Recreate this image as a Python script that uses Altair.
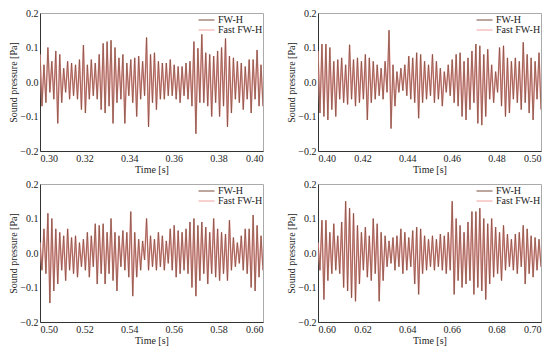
import altair as alt
import pandas as pd
import numpy as np

starts = [0.30, 0.40, 0.50, 0.60]
series_names = ["FW-H", "Fast FW-H"]
series_colors = ["#7a4c3c", "#f2a2a2"]
x_ticks = [[round(s + 0.02 * k, 2) for k in range(6)] for s in starts]
y_ticks = [-0.2, -0.1, 0.0, 0.1, 0.2]

# successive extrema (peak, trough, peak, trough, ...)
p1 = [0.08, -0.07, 0.05, -0.06, 0.10, -0.03, 0.06, -0.05, 0.09, -0.12,
      0.08, -0.06, 0.04, -0.03, 0.06, -0.05, 0.055, -0.04, 0.05, -0.05,
      0.065, -0.08, 0.107, -0.09, 0.05, -0.05, 0.065, -0.04, 0.055, -0.05,
      0.08, -0.08, 0.112, -0.09, 0.117, -0.07, 0.121, -0.12, 0.10, -0.06,
      0.07, -0.05, 0.08, -0.12, 0.055, -0.04, 0.065, -0.06, 0.07, -0.10,
      0.075, -0.05, 0.06, -0.04, 0.129, -0.13, 0.08, -0.06, 0.085, -0.08,
      0.06, -0.05, 0.055, -0.05, 0.055, -0.04, 0.065, -0.04, 0.05, -0.05,
      0.045, -0.06, 0.045, -0.04, 0.055, -0.05, 0.06, -0.07, 0.117, -0.15,
      0.098, -0.06, 0.138, -0.06, 0.085, -0.07, 0.08, -0.10, 0.075, -0.06,
      0.09, -0.10, 0.10, -0.07, 0.126, -0.13, 0.075, -0.09, 0.07, -0.05,
      0.06, -0.06, 0.055, -0.08, 0.045, -0.05, 0.065, -0.09, 0.065, -0.05,
      0.093, -0.07, 0.05, -0.07]
p2 = [0.09, -0.09, 0.11, -0.10, 0.11, -0.11, 0.10, -0.08, 0.06, -0.10,
      0.065, -0.05, 0.07, -0.06, 0.05, -0.065, 0.108, -0.05, 0.065, -0.07,
      0.07, -0.06, 0.06, -0.05, 0.08, -0.11, 0.07, -0.06, 0.06, -0.05,
      0.05, -0.04, 0.04, -0.05, 0.06, -0.03, 0.15, -0.135, 0.05, -0.07,
      0.03, -0.03, 0.04, -0.025, 0.05, -0.04, 0.075, -0.05, 0.07, -0.06,
      0.085, -0.105, 0.08, -0.06, 0.06, -0.05, 0.05, -0.04, 0.08, -0.06,
      0.06, -0.05, 0.04, -0.07, 0.03, -0.03, 0.05, -0.04, 0.065, -0.06,
      0.08, -0.07, 0.085, -0.10, 0.06, -0.11, 0.07, -0.08, 0.09, -0.06,
      0.11, -0.12, 0.105, -0.125, 0.08, -0.10, 0.095, -0.05, 0.05, -0.06,
      0.03, -0.03, 0.10, -0.07, 0.105, -0.10, 0.07, -0.09, 0.06, -0.05,
      0.07, -0.06, 0.06, -0.08, 0.115, -0.06, 0.08, -0.09, 0.07, -0.11,
      0.06, -0.05, 0.085, -0.08]
p3 = [0.03, -0.05, 0.07, -0.06, 0.115, -0.145, 0.10, -0.11, 0.07, -0.09,
      0.06, -0.05, 0.05, -0.08, 0.07, -0.05, 0.045, -0.06, 0.05, -0.07,
      0.03, -0.04, 0.04, -0.05, 0.06, -0.07, 0.05, -0.04, 0.085, -0.09,
      0.08, -0.06, 0.085, -0.09, 0.06, -0.06, 0.10, -0.08, 0.06, -0.11,
      0.05, -0.04, 0.065, -0.05, 0.06, -0.07, 0.12, -0.125, 0.06, -0.07,
      0.04, -0.05, 0.035, -0.02, 0.10, -0.05, 0.05, -0.04, 0.04, -0.05,
      0.06, -0.04, 0.05, -0.05, 0.035, -0.03, 0.07, -0.05, 0.08, -0.07,
      0.065, -0.06, 0.06, -0.05, 0.07, -0.06, 0.09, -0.10, 0.10, -0.125,
      0.08, -0.08, 0.09, -0.06, 0.075, -0.09, 0.06, -0.06, 0.10, -0.07,
      0.07, -0.08, 0.06, -0.06, 0.055, -0.08, 0.095, -0.05, 0.045, -0.04,
      0.03, -0.03, 0.05, -0.05, 0.07, -0.06, 0.07, -0.10, 0.11, -0.11,
      0.08, -0.07, 0.05, -0.05]
p4 = [0.03, -0.05, 0.095, -0.135, 0.095, -0.08, 0.06, -0.06, 0.085, -0.05,
      0.05, -0.06, 0.09, -0.10, 0.15, -0.11, 0.13, -0.13, 0.115, -0.14,
      0.08, -0.09, 0.06, -0.05, 0.075, -0.07, 0.05, -0.08, 0.10, -0.06,
      0.085, -0.14, 0.06, -0.08, 0.05, -0.04, 0.035, -0.03, 0.045, -0.05,
      0.05, -0.04, 0.07, -0.06, 0.06, -0.05, 0.045, -0.04, 0.065, -0.09,
      0.075, -0.12, 0.07, -0.06, 0.05, -0.05, 0.04, -0.04, 0.05, -0.05,
      0.04, -0.04, 0.055, -0.05, 0.05, -0.06, 0.06, -0.05, 0.15, -0.12,
      0.10, -0.08, 0.08, -0.10, 0.06, -0.09, 0.09, -0.08, 0.12, -0.12,
      0.12, -0.10, 0.13, -0.11, 0.10, -0.135, 0.085, -0.09, 0.10, -0.07,
      0.075, -0.06, 0.06, -0.08, 0.08, -0.05, 0.055, -0.04, 0.04, -0.05,
      0.055, -0.06, 0.06, -0.04, 0.08, -0.09, 0.07, -0.06, 0.05, -0.07,
      0.045, -0.05, 0.04, -0.04]
panels = [p1, p2, p3, p4]

rows = []
for i, (t0, vals) in enumerate(zip(starts, panels)):
    tt = np.linspace(t0, t0 + 0.1, len(vals))
    # Fast FW-H rows first so that it is drawn underneath FW-H
    for name in ["Fast FW-H", "FW-H"]:
        for t, v in zip(tt, vals):
            rows.append({"panel": i, "t": float(t), "p": v, "series": name})
df = pd.DataFrame(rows)

FONT = "Liberation Serif"


def make_panel(i):
    t0 = starts[i]
    return alt.Chart(df[df.panel == i]).mark_line(clip=True).encode(
        x=alt.X("t:Q",
                scale=alt.Scale(domain=[t0, t0 + 0.1], nice=False, zero=False),
                axis=alt.Axis(values=x_ticks[i], format=".2f", title="Time [s]")),
        y=alt.Y("p:Q",
                scale=alt.Scale(domain=[-0.2, 0.2], nice=False),
                axis=alt.Axis(values=y_ticks, format=".1f", title="Sound pressure [Pa]")),
        color=alt.Color("series:N", sort=series_names,
                        scale=alt.Scale(domain=series_names, range=series_colors),
                        legend=alt.Legend(title=None, orient="none", legendX=158, legendY=2,
                                          symbolType="stroke", symbolSize=256,
                                          symbolStrokeWidth=1, labelFont=FONT,
                                          labelFontSize=10, labelColor="#222",
                                          rowPadding=0, clipHeight=10, labelOffset=3)),
        strokeWidth=alt.StrokeWidth("series:N", sort=series_names,
                                    scale=alt.Scale(domain=series_names, range=[0.7, 1.5]),
                                    legend=None),
    ).properties(width=223, height=138)


chart = alt.concat(
    make_panel(0), make_panel(1), make_panel(2), make_panel(3),
    columns=2, spacing={"row": 33, "column": 55}, bounds="flush",
).resolve_legend(color="independent").resolve_scale(x="independent").properties(
    padding={"left": 0, "top": -1, "right": 0, "bottom": 0}
).configure(font=FONT).configure_axis(
    labelFont=FONT, labelFontSize=10, labelColor="#222",
    titleFont=FONT, titleFontSize=10, titleFontWeight="normal", titleColor="#222",
    grid=False, ticks=False, labelPadding=2, titlePadding=1,
    domainColor="#333", domainWidth=1,
).configure_view(stroke="#aaaaaa", strokeWidth=1)

chart.save("out.html", embed_options={"renderer": "svg", "actions": False})
